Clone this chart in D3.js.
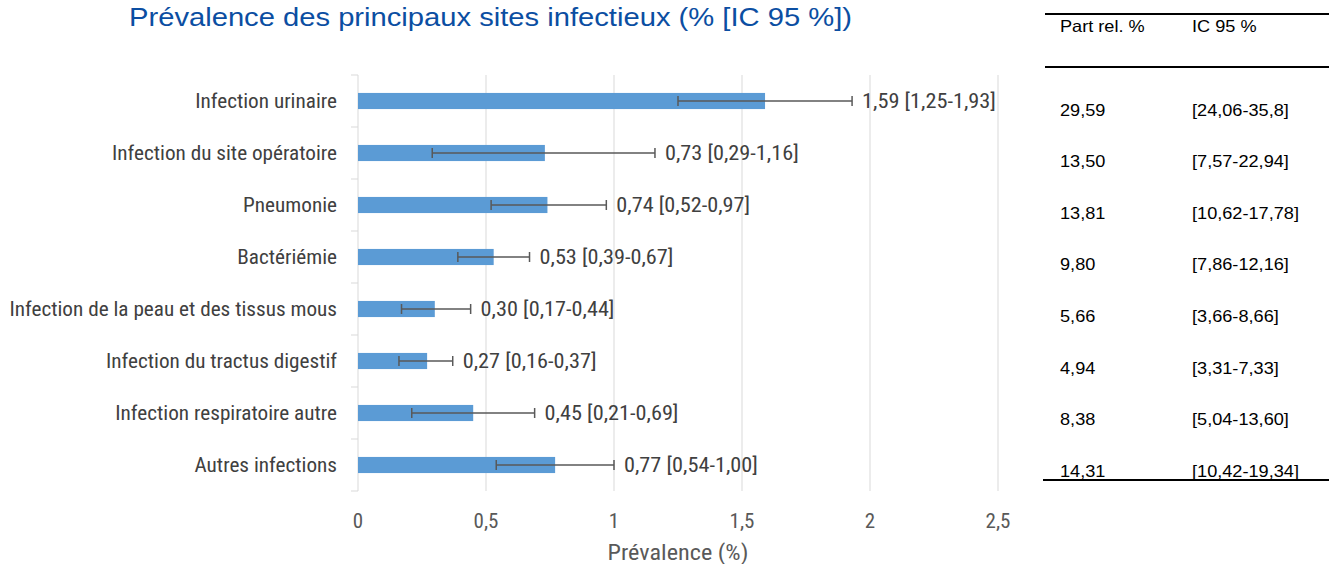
<!DOCTYPE html>
<meta charset='utf-8'>
<style>
	body { margin: 0; background: #fff; }
	svg { display: block; }
	.narrow { font-family: 'Liberation Sans Narrow', 'Arial Narrow', 'Roboto Condensed', 'Liberation Sans', sans-serif; }
	.tbl text { font-family: 'Liberation Sans', Arial, sans-serif; font-size: 16.5px; fill: #000; }
</style>
<body>
<script src='https://cdn.jsdelivr.net/npm/d3@7'></script>
<script>
	var categories = ['Infection urinaire', 'Infection du site opératoire', 'Pneumonie', 'Bactériémie',
		'Infection de la peau et des tissus mous', 'Infection du tractus digestif',
		'Infection respiratoire autre', 'Autres infections'];
	var prevalence = [1.59, 0.73, 0.74, 0.53, 0.30, 0.27, 0.45, 0.77];
	var lower = [1.25, 0.29, 0.52, 0.39, 0.17, 0.16, 0.21, 0.54];
	var upper = [1.93, 1.16, 0.97, 0.67, 0.44, 0.37, 0.69, 1.00];
	var partRel = ['29,59', '13,50', '13,81', '9,80', '5,66', '4,94', '8,38', '14,31'];
	var icPart = ['[24,06-35,8]', '[7,57-22,94]', '[10,62-17,78]', '[7,86-12,16]',
		'[3,66-8,66]', '[3,31-7,33]', '[5,04-13,60]', '[10,42-19,34]'];
	var xTicks = [0, 0.5, 1, 1.5, 2, 2.5];

	var W = 1329, H = 564;
	var fmt = function (v) { return d3.format('.2f')(v).replace('.', ','); };

	// the source picture is stretched sideways a bit, so widen glyphs to match
	function stretch(sel, k) {
		sel.each(function () {
			var w = this.getComputedTextLength();
			d3.select(this).attr('textLength', w * k).attr('lengthAdjust', 'spacingAndGlyphs');
		});
	}

	var svg = d3.select('body').append('svg').attr('width', W).attr('height', H);

	var x = d3.scaleLinear().domain([0, 2.5]).range([358, 998]);
	var y = d3.scaleBand().domain(categories).range([75, 491]).paddingInner(0.69).paddingOuter(0.345);

	var title = svg.append('text')
		.attr('x', 129).attr('y', 26)
		.attr('font-family', 'Liberation Sans, Arial, sans-serif').attr('font-size', 25)
		.attr('fill', '#0b4ea2')
		.text('Prévalence des principaux sites infectieux (% [IC 95 %])');
	title.attr('textLength', 723).attr('lengthAdjust', 'spacingAndGlyphs');

	// gridlines
	svg.append('g').selectAll('line').data(xTicks.slice(1)).enter().append('line')
		.attr('x1', function (d) { return x(d); }).attr('x2', function (d) { return x(d); })
		.attr('y1', 75).attr('y2', 491)
		.attr('stroke', '#d9d9d9').attr('stroke-width', 1);

	// y axis line and category separators
	var bandStep = y.step();
	var sep = d3.range(categories.length + 1).map(function (i) { return 75 + i * bandStep; });
	svg.append('line').attr('x1', 358).attr('x2', 358).attr('y1', 75).attr('y2', 491)
		.attr('stroke', '#d9d9d9');
	svg.append('g').selectAll('line').data(sep).enter().append('line')
		.attr('x1', 351).attr('x2', 358)
		.attr('y1', function (d) { return d; }).attr('y2', function (d) { return d; })
		.attr('stroke', '#d9d9d9');

	// category labels
	var catLabels = svg.append('g').attr('class', 'narrow').selectAll('text').data(categories).enter().append('text')
		.attr('x', 337).attr('y', function (d) { return y(d) + y.bandwidth() / 2; })
		.attr('dy', '0.35em').attr('text-anchor', 'end')
		.attr('font-size', 21).attr('fill', '#404040')
		.text(function (d) { return d; });
	stretch(catLabels, 1.01);

	// bars
	svg.append('g').selectAll('rect').data(categories).enter().append('rect')
		.attr('x', x(0)).attr('y', function (d) { return y(d); })
		.attr('width', function (d, i) { return x(prevalence[i]) - x(0); })
		.attr('height', y.bandwidth())
		.attr('fill', '#5b9bd5');

	// error bars
	var eb = svg.append('g').attr('stroke', '#595959').attr('stroke-width', 1.5);
	categories.forEach(function (c, i) {
		var cy = y(c) + y.bandwidth() / 2;
		eb.append('line').attr('x1', x(lower[i])).attr('x2', x(upper[i])).attr('y1', cy).attr('y2', cy);
		[lower[i], upper[i]].forEach(function (v) {
			eb.append('line').attr('x1', x(v)).attr('x2', x(v)).attr('y1', cy - 5).attr('y2', cy + 5);
		});
	});

	// value labels
	var valLabels = svg.append('g').attr('class', 'narrow').selectAll('text').data(categories).enter().append('text')
		.attr('x', function (d, i) { return x(upper[i]) + 10; })
		.attr('y', function (d) { return y(d) + y.bandwidth() / 2; })
		.attr('dy', '0.35em').attr('font-size', 21).attr('fill', '#404040')
		.text(function (d, i) { return fmt(prevalence[i]) + ' [' + fmt(lower[i]) + '-' + fmt(upper[i]) + ']'; });
	stretch(valLabels, 1.06);

	// x axis labels
	var tickLabels = svg.append('g').attr('class', 'narrow').selectAll('text').data(xTicks).enter().append('text')
		.attr('x', function (d) { return x(d); }).attr('y', 528)
		.attr('text-anchor', 'middle').attr('font-size', 20).attr('fill', '#595959')
		.text(function (d) { return String(d).replace('.', ','); });
	stretch(tickLabels, 1.05);

	var axTitle = svg.append('text').attr('class', 'narrow')
		.attr('x', 678).attr('y', 560).attr('text-anchor', 'middle')
		.attr('font-size', 22).attr('fill', '#595959')
		.text('Prévalence (%)');
	stretch(axTitle, 1.1);

	// side table
	var tbl = svg.append('g').attr('class', 'tbl');
	[[1045, 14], [1045, 67], [1043, 480]].forEach(function (l) {
		tbl.append('line').attr('x1', l[0]).attr('x2', W).attr('y1', l[1]).attr('y2', l[1])
			.attr('stroke', '#000').attr('stroke-width', 2);
	});
	tbl.append('text').attr('x', 1060).attr('y', 32).text('Part rel. %');
	tbl.append('text').attr('x', 1192).attr('y', 32).text('IC 95 %');
	var rowY = d3.scaleLinear().domain([0, categories.length - 1]).range([110, 471]);
	tbl.selectAll('text.pr').data(partRel).enter().append('text').attr('class', 'pr')
		.attr('x', 1060).attr('y', function (d, i) { return rowY(i); }).attr('dy', '0.35em')
		.text(function (d) { return d; });
	tbl.selectAll('text.ic').data(icPart).enter().append('text').attr('class', 'ic')
		.attr('x', 1192).attr('y', function (d, i) { return rowY(i); }).attr('dy', '0.35em')
		.text(function (d) { return d; });
	stretch(tbl.selectAll('text'), 1.1);
</script>
